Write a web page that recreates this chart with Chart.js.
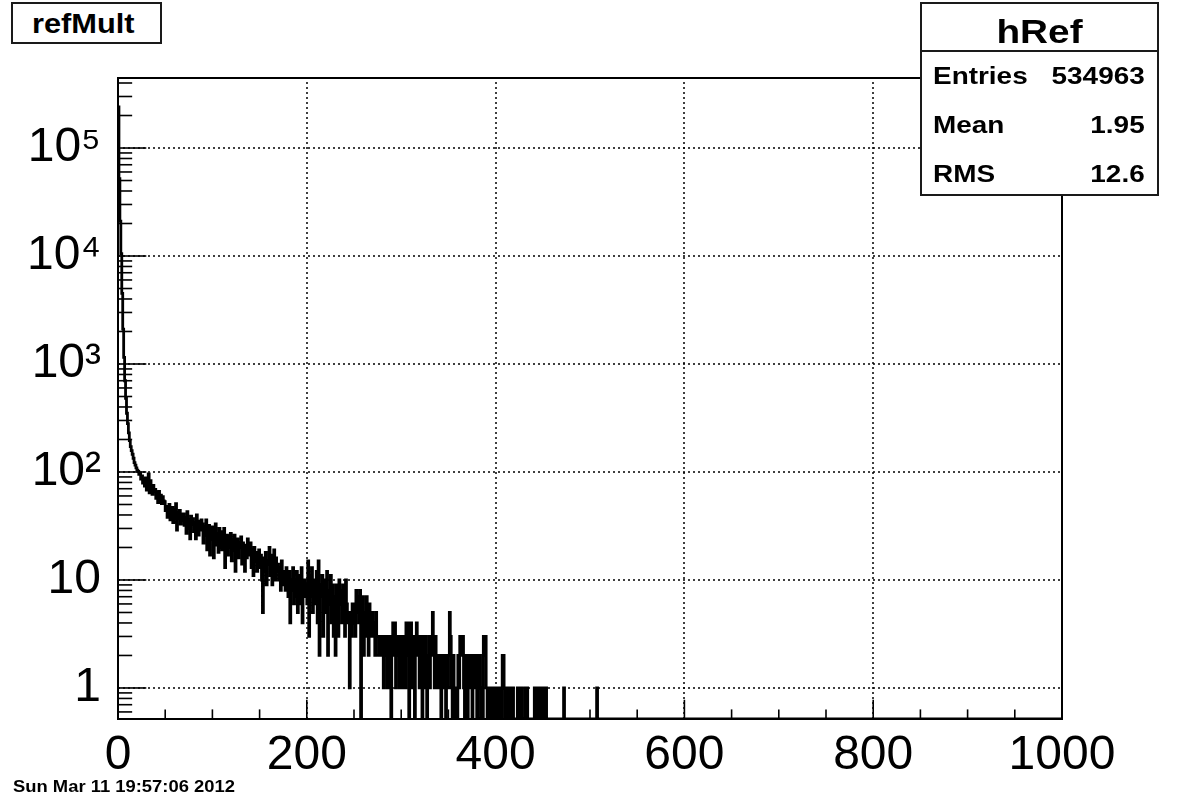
<!DOCTYPE html>
<html><head><meta charset="utf-8">
<script src="https://cdn.jsdelivr.net/npm/chart.js@4.4.0/dist/chart.umd.min.js"></script>
<style>
html,body{margin:0;padding:0;background:#fff;}
#wrap{position:relative;width:1182px;height:800px;overflow:hidden;}
#c{position:absolute;left:0;top:0;}
.bx{position:absolute;background:#fff;border:2px solid #1a1a1a;box-sizing:border-box;}
.t{position:absolute;font-family:"Liberation Sans",Arial,Helvetica,sans-serif;font-weight:bold;white-space:nowrap;line-height:1;color:#000;}
</style></head><body>
<div id="wrap">
<canvas id="c" width="1182" height="800"></canvas>
<div class="bx" style="left:11px;top:2px;width:151px;height:42px;"></div>
<div class="t" style="left:32px;top:11px;font-size:27px;transform:scaleX(1.14);transform-origin:left center;">refMult</div>
<div class="bx" style="left:920px;top:2px;width:239px;height:194px;"></div>
<div style="position:absolute;left:920px;top:50px;width:239px;height:0;border-top:2px solid #1a1a1a;"></div>
<div class="t" style="left:920px;width:239px;text-align:center;top:14px;font-size:34px;transform:scaleX(1.14);transform-origin:center center;">hRef</div>
<div class="t" style="left:933px;top:64px;font-size:24.5px;transform:scaleX(1.14);transform-origin:left center;">Entries</div>
<div class="t" style="right:37px;top:64px;font-size:24.5px;transform:scaleX(1.14);transform-origin:right center;">534963</div>
<div class="t" style="left:933px;top:113px;font-size:24.5px;transform:scaleX(1.14);transform-origin:left center;">Mean</div>
<div class="t" style="right:37px;top:113px;font-size:24.5px;transform:scaleX(1.14);transform-origin:right center;">1.95</div>
<div class="t" style="left:933px;top:162px;font-size:24.5px;transform:scaleX(1.14);transform-origin:left center;">RMS</div>
<div class="t" style="right:37px;top:162px;font-size:24.5px;transform:scaleX(1.14);transform-origin:right center;">12.6</div>
<div class="t" style="left:13px;top:778px;font-size:16.3px;transform:scaleX(1.13);transform-origin:left center;">Sun Mar 11 19:57:06 2012</div>
</div>
<script>
// ---- data (histogram hRef, 1-unit bins starting at 0; bins not listed are empty) ----
const binWidth = 1;
const counts = [
 200000,240000,52000,21000,10500,4500,2100,1150,700,480,
 350,280,230,195,172,158,146,134,122,116,
 109,104,101,95,98,86,92,79,84,74,
 88,68,79,96,64,83,71,62,75,66,
 69,57,64,52,66,55,61,51,59,54,
 53,44,48,38,45,50,36,43,47,34,
 45,39,51,29,42,37,44,33,40,36,
 41,32,38,27,43,30,36,24,39,33,
 37,28,34,24,40,31,26,35,29,36,
 33,22,30,26,36,19,28,32,17,27,
 31,24,16,29,33,21,27,18,30,25,
 28,19,24,30,13,22,26,17,25,20,
 27,15,23,19,26,12,21,24,16,22,
 20,25,14,22,18,12,21,16,24,19,
 17,22,13,19,11,20,15,18,12,16,
 19,13,17,10,5,16,12,18,9,14,
 15,20,11,17,9,14,19,10,16,12,
 14,10,13,8,15,11,9,12,8,13,
 11,7,12,4,10,8,13,6,9,7,
 12,5,9,11,6,13,4,8,10,7,
 9,6,15,3,11,7,13,5,8,10,
 6,12,4,15,2,9,7,11,3,8,
 10,5,12,2,8,6,11,4,9,3,
 7,2,9,5,3,10,6,8,4,9,
 8,3,10,6,4,5,1,5,3,6,
 4,6,3,8,5,7,4,8,0,5,
 7,2,5,3,7,4,2,6,3,5,
 5,3,4,2,5,3,3,2,3,3,
 2,3,1,3,2,3,1,2,3,1,
 0,3,4,2,4,1,3,2,3,1,
 3,2,1,3,2,1,4,2,4,0,
 3,4,1,3,2,0,3,4,2,3,
 1,3,2,0,3,1,3,2,0,2,
 3,1,2,3,5,2,1,3,1,2,
 1,2,2,0,2,1,2,2,0,2,
 1,2,5,3,1,0,2,1,0,1,
 0,2,1,3,3,2,3,1,0,2,
 1,0,2,2,1,2,0,2,2,1,
 2,0,2,1,2,0,1,0,3,2,
 3,1,0,0,1,1,0,1,1,0,
 1,1,0,1,1,0,1,0,2,2,
 1,0,1,0,0,1,1,0,0,1,
 0,0,0,0,1,0,1,0,1,0,
 0,0,1,0,1,0,0,0,0,0,
 0,0,1,0,1,0,0,1,0,1,
 0,0,1,0,1,0,0,0,0,0,
 0,0,0,0,0,0,0,0,0,0,
 0,0,0,1,0,0,0,0,0,0,
 0,0,0,0,0,0,0,0,0,0,
 0,0,0,0,0,0,0,0,0,0,
 0,0,0,0,0,0,0,0,1,0
];
const xRange = [0, 1000];
const yRange = [0.516, 445000];
const xTickValues = [0, 200, 400, 600, 800, 1000];
const xTickLabels = ['0', '200', '400', '600', '800', '1000'];
const xMinorStep = 50;
const yTickValues = [1, 10, 100, 1000, 10000, 100000];
const yTickLabels = ['1', '10', '10\u00B2', '10\u00B3', '10\u2074', '10\u2075'];

// ---- build step outline (empty bins drop to the axis floor, as in a log-y histogram) ----
const points = counts.map((c, i) => ({x: i * binWidth, y: c > 0 ? c : yRange[0]}));
points.push({x: counts.length * binWidth, y: yRange[0]});
points.push({x: xRange[1], y: yRange[0]});

const FONT = '"Liberation Sans", Arial, Helvetica, sans-serif';

const rootFrame = {
  id: 'rootFrame',
  beforeDatasetsDraw(chart) {
    const {ctx, chartArea: a, scales: {x, y}} = chart;
    ctx.save();
    ctx.strokeStyle = '#000';
    ctx.lineWidth = 1.5;
    ctx.setLineDash([2, 3]);
    xTickValues.forEach(v => {
      if (v <= xRange[0] || v >= xRange[1]) return;
      const p = Math.round(x.getPixelForValue(v));
      ctx.beginPath(); ctx.moveTo(p, a.bottom); ctx.lineTo(p, a.top); ctx.stroke();
    });
    yTickValues.forEach(v => {
      const p = Math.round(y.getPixelForValue(v));
      ctx.beginPath(); ctx.moveTo(a.left, p); ctx.lineTo(a.right, p); ctx.stroke();
    });
    ctx.restore();
  },
  afterDatasetsDraw(chart) {
    const {ctx, chartArea: a, scales: {x, y}} = chart;
    ctx.save();
    ctx.strokeStyle = '#000';
    ctx.setLineDash([]);
    ctx.lineWidth = 1.6;
    const W = a.right - a.left, H = a.bottom - a.top;
    const majY = 0.03 * W, minY = majY / 2, majX = 0.03 * H, minX = majX / 2;
    // y ticks (log): majors at decades, minors at 2..9
    for (let e = -1; e <= 6; e++) {
      for (let m = 1; m <= 9; m++) {
        const v = m * Math.pow(10, e);
        if (v < yRange[0] || v > yRange[1]) continue;
        const p = y.getPixelForValue(v);
        const len = m === 1 ? majY : minY;
        ctx.beginPath(); ctx.moveTo(a.left, p); ctx.lineTo(a.left + len, p); ctx.stroke();
      }
    }
    // x ticks
    for (let v = xRange[0]; v <= xRange[1]; v += xMinorStep) {
      const p = x.getPixelForValue(v);
      const len = xTickValues.includes(v) ? majX : minX;
      ctx.beginPath(); ctx.moveTo(p, a.bottom); ctx.lineTo(p, a.bottom - len); ctx.stroke();
    }
    ctx.lineWidth = 2;
    ctx.strokeRect(a.left, a.top, W, H);
    ctx.restore();
  }
};

new Chart(document.getElementById('c'), {
  type: 'line',
  data: {
    datasets: [{
      label: 'hRef',
      data: points,
      stepped: 'after',
      borderColor: '#000',
      borderWidth: 2.8,
      pointRadius: 0,
      fill: false,
      tension: 0
    }]
  },
  options: {
    responsive: false,
    devicePixelRatio: 1,
    animation: false,
    events: [],
    layout: {padding: {top: 78, right: 120, bottom: 0, left: 0}},
    plugins: {legend: {display: false}, tooltip: {enabled: false}, title: {display: false}},
    scales: {
      x: {
        type: 'linear', min: xRange[0], max: xRange[1],
        grid: {display: false}, border: {display: false},
        afterBuildTicks: s => { s.ticks = xTickValues.map(v => ({value: v})); },
        afterFit: s => { s.height = 81; },
        ticks: {
          autoSkip: false, maxRotation: 0, minRotation: 0, padding: 0, color: '#000',
          font: {family: FONT, size: 48},
          callback: (v) => xTickLabels[xTickValues.indexOf(v)]
        }
      },
      y: {
        type: 'logarithmic', min: yRange[0], max: yRange[1],
        grid: {display: false}, border: {display: false},
        afterBuildTicks: s => { s.ticks = yTickValues.map(v => ({value: v})); },
        afterFit: s => { s.width = 118; },
        ticks: {
          autoSkip: false, padding: 9, color: '#000',
          font: {family: FONT, size: 48},
          callback: (v) => { const i = yTickValues.indexOf(v); return i >= 0 ? yTickLabels[i] : ''; }
        }
      }
    }
  },
  plugins: [rootFrame]
});
</script>
</body></html>
